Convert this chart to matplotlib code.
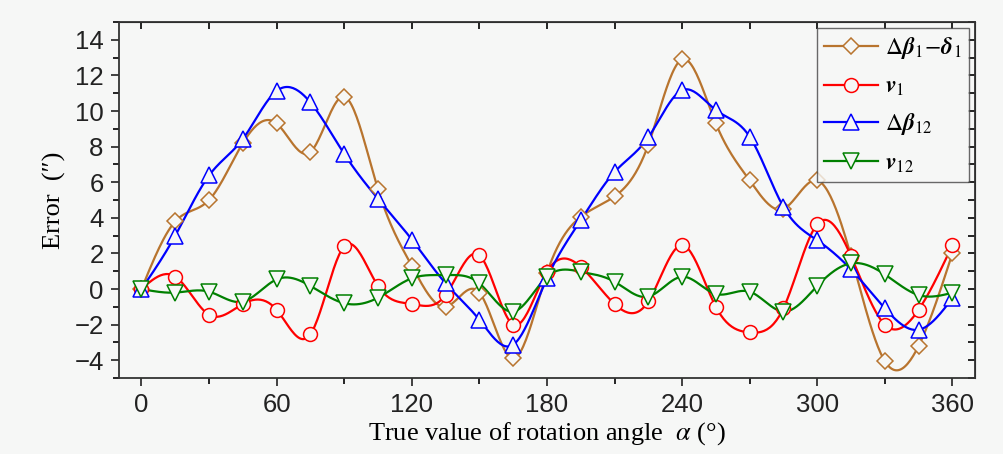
import matplotlib
matplotlib.use('Agg')
import matplotlib.pyplot as plt
import numpy as np
from matplotlib.ticker import MultipleLocator

angle = np.arange(0, 361, 15)
d_beta1 = [0, 3.8, 5.0, 8.2, 9.3, 7.7, 10.8, 5.6, 1.3, -1.0, -0.2, -3.9, 0.9,
           4.05, 5.2, 8.1, 12.9, 9.3, 6.1, 4.5, 6.1, 1.85, -4.05, -3.2, 2.0]
v1 = [0, 0.7, -1.45, -0.84, -1.17, -2.54, 2.4, 0.17, -0.84, -0.34, 1.9, -2.0, 0.97,
      1.25, -0.84, -0.7, 2.46, -1.0, -2.44, -1.08, 3.64, 1.85, -2.0, -1.17, 2.46]
d_beta12 = [0, 3.0, 6.38, 8.43, 11.13, 10.48, 7.59, 5.07, 2.78, 0.32, -1.73, -3.13, 0.6,
            3.86, 6.57, 8.52, 11.17, 10.05, 8.56, 4.61, 2.74, 1.1, -1.08, -2.29, -0.52]
v12 = [0, -0.2, -0.15, -0.71, 0.54, 0.17, -0.8, -0.49, 0.6, 0.78, 0.32, -1.27, 0.69,
       0.97, 0.41, -0.43, 0.69, -0.28, -0.15, -1.27, 0.17, 1.44, 0.82, -0.34, -0.21]

labels = [r'$\mathit{\Delta}\boldsymbol{\beta}_{\mathrm{1}}\!-\!\boldsymbol{\delta}_{\mathrm{1}}$',
          r'$\boldsymbol{v}_{\mathrm{1}}$',
          r'$\mathit{\Delta}\boldsymbol{\beta}_{\mathrm{12}}$',
          r'$\boldsymbol{v}_{\mathrm{12}}$']
colors = ['#b8742e', '#ff0000', '#0000ff', '#008000']
markers = ['D', 'o', '^', 'v']
msizes = [8, 10, 11, 11]


def spline(x, y, n=600):
    # natural cubic spline through the points
    x = np.asarray(x, float)
    y = np.asarray(y, float)
    k = len(x)
    h = np.diff(x)
    A = np.zeros((k, k))
    b = np.zeros(k)
    A[0, 0] = A[-1, -1] = 1
    for i in range(1, k - 1):
        A[i, i - 1] = h[i - 1]
        A[i, i] = 2 * (h[i - 1] + h[i])
        A[i, i + 1] = h[i]
        b[i] = 6 * ((y[i + 1] - y[i]) / h[i] - (y[i] - y[i - 1]) / h[i - 1])
    M = np.linalg.solve(A, b)
    xs = np.linspace(x[0], x[-1], n)
    idx = np.clip(np.searchsorted(x, xs) - 1, 0, k - 2)
    x0, x1 = x[idx], x[idx + 1]
    hh = x1 - x0
    t0 = x1 - xs
    t1 = xs - x0
    ys = (M[idx] * t0 ** 3 + M[idx + 1] * t1 ** 3) / (6 * hh) \
        + (y[idx] / hh - M[idx] * hh / 6) * t0 + (y[idx + 1] / hh - M[idx + 1] * hh / 6) * t1
    return xs, ys


plt.rcParams['mathtext.fontset'] = 'stix'
bg = '#f6f7f6'
fig = plt.figure(figsize=(10.04, 4.54), dpi=100, facecolor=bg)
ax = fig.add_axes([0.1185, 0.1674, 0.8525, 0.7841], facecolor=bg)

for ys, c, m, ms, lab in zip([d_beta1, v1, d_beta12, v12], colors, markers, msizes, labels):
    xs, yy = spline(angle, ys)
    ax.plot(xs, yy, color=c, lw=1.6, zorder=2)
    ax.plot(angle, ys, ls='none', marker=m, ms=ms, mfc=bg, mec=c, mew=1.1, zorder=3)
    ax.plot([], [], color=c, lw=1.6, marker=m, ms=ms, mfc=bg, mec=c, mew=1.1, label=lab)

ax.set_xlim(-10, 370)
ax.set_ylim(-5, 15)
ax.xaxis.set_major_locator(MultipleLocator(60))
ax.xaxis.set_minor_locator(MultipleLocator(30))
ax.yaxis.set_minor_locator(MultipleLocator(1))
ax.set_yticks(np.arange(-4, 15, 2))
ax.tick_params(which='major', direction='out', length=6, width=1.2, labelsize=18.5,
               colors='#222222', pad=5)
ax.tick_params(which='minor', direction='out', length=4, width=1.2)
for lab in ax.get_xticklabels() + ax.get_yticklabels():
    lab.set_family('Liberation Sans')
for s in ax.spines.values():
    s.set_linewidth(1.3)
    s.set_color('#333333')

top = ax.secondary_xaxis('top')
top.xaxis.set_major_locator(MultipleLocator(60))
top.xaxis.set_minor_locator(MultipleLocator(30))
top.tick_params(which='both', direction='in', length=5, width=1.2, labeltop=False)
right = ax.secondary_yaxis('right')
right.yaxis.set_major_locator(MultipleLocator(2))
right.yaxis.set_minor_locator(MultipleLocator(1))
right.tick_params(which='both', direction='in', length=5, width=1.2, labelright=False)

ax.set_xlabel(r'True value of rotation angle  $\mathit{\alpha}$ (°)', family='Liberation Serif',
              fontsize=19, labelpad=2)
ax.set_ylabel('Error  (″)', family='Liberation Serif', fontsize=19, labelpad=6)

leg = ax.legend(loc='upper right', bbox_to_anchor=(0.993, 0.983), fontsize=17, frameon=True,
                fancybox=False, handlelength=2.3, borderpad=0.3, labelspacing=0.55,
                handletextpad=0.3, borderaxespad=0)
leg.get_frame().set_edgecolor('#444444')
leg.get_frame().set_linewidth(1.0)
leg.get_frame().set_facecolor(bg)

fig.savefig('out.png', dpi=100, facecolor=bg)
